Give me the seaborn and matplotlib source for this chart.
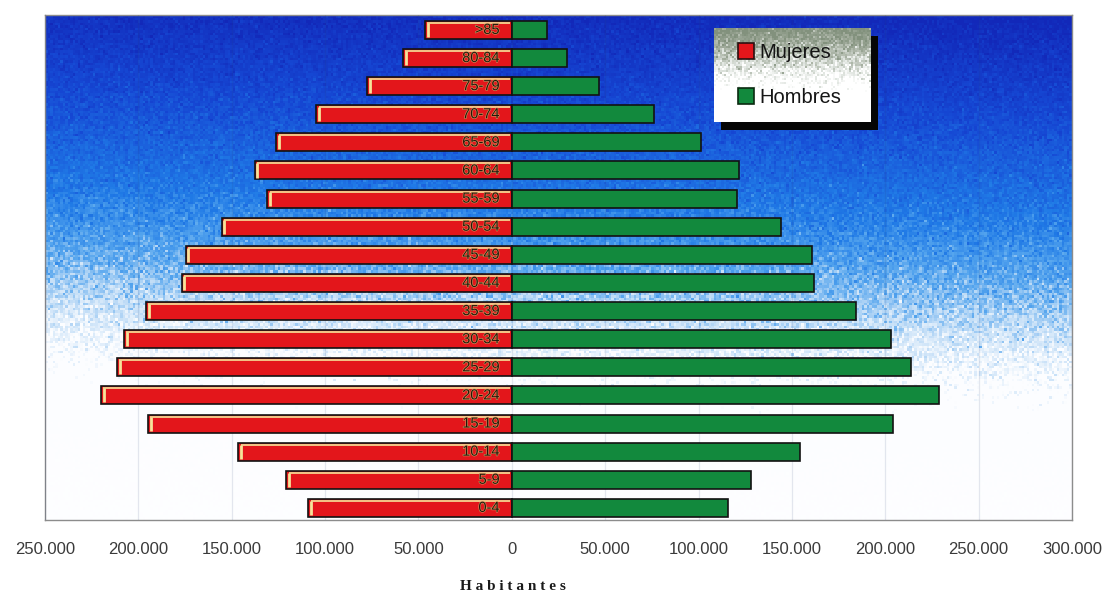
import numpy as np
import pandas as pd
import matplotlib
matplotlib.use("Agg")
import matplotlib.pyplot as plt
import matplotlib.patheffects as pe
import seaborn as sns
from matplotlib.patches import Patch, Rectangle
from matplotlib.ticker import FuncFormatter, FixedLocator

# Grupos de edad (de mayor a menor, como se leen de arriba abajo)
edades = [">85", "80-84", "75-79", "70-74", "65-69", "60-64", "55-59", "50-54",
          "45-49", "40-44", "35-39", "30-34", "25-29", "20-24", "15-19",
          "10-14", "5-9", "0-4"]
mujeres = [46500, 58200, 77500, 104700, 126100, 137800, 130900, 155400,
           174700, 176800, 196000, 207800, 211500, 220100, 195000,
           146400, 120700, 109000]
hombres = [18700, 29400, 46500, 75900, 101500, 121800, 120700, 144200,
           160800, 161900, 184300, 203000, 213700, 228600, 204100,
           154400, 128200, 115900]
marcas_x = [-250000, -200000, -150000, -100000, -50000, 0,
            50000, 100000, 150000, 200000, 250000, 300000]
series = ["Mujeres", "Hombres"]

ROJO = "#e3161b"
VERDE = "#12893d"

sns.set_style("white")
plt.rcParams["font.family"] = ["Liberation Sans", "DejaVu Sans"]

W_PX, H_PX = 1104, 593
fig = plt.figure(figsize=(W_PX / 100, H_PX / 100), dpi=100)
ax = fig.add_axes([45 / W_PX, 1 - 520 / H_PX, 1027 / W_PX, 505 / H_PX])

df = pd.DataFrame({
    "edad": edades + edades,
    "sexo": [series[0]] * len(edades) + [series[1]] * len(edades),
    "habitantes": [-v for v in mujeres] + hombres,
})

sns.barplot(data=df, x="habitantes", y="edad", hue="sexo", order=edades,
            hue_order=series, palette={series[0]: ROJO, series[1]: VERDE},
            dodge=False, orient="h", width=0.64, saturation=1,
            edgecolor="#121212", linewidth=1.2, legend=False, ax=ax, zorder=3)

x0, x1 = marcas_x[0], marcas_x[-1]
y_bot, y_top = len(edades) - 1 + 0.43, -0.53
ax.set_xlim(x0, x1)
ax.set_ylim(y_bot, y_top)

# Fondo degradado azul -> blanco con grano
rng = np.random.default_rng(11)
Hb, Wb = 200, 410
yy = np.linspace(0, 1, Hb)[:, None]
xx = np.linspace(0, 1, Wb)[None, :]
t = yy + 0.06 * (1 - xx) + rng.normal(0, 0.035, (Hb, Wb))
stops = [0.0, 0.2, 0.40, 0.52, 0.62, 0.72, 1.3]
cols = np.array([(18, 40, 185), (22, 72, 212), (32, 122, 230), (85, 165, 238),
                 (195, 222, 247), (252, 253, 255), (255, 255, 255)]) / 255
fondo = np.stack([np.interp(t, stops, cols[:, k]) for k in range(3)], axis=-1)
ax.imshow(fondo, extent=(x0, x1, y_bot, y_top), aspect="auto", zorder=0,
          interpolation="nearest")
ax.set_xlim(x0, x1)
ax.set_ylim(y_bot, y_top)

# Brillo en el borde superior e izquierdo de las barras rojas
for p in ax.patches:
    w = p.get_width()
    if w < 0:
        izq = p.get_x() + w
        arriba = p.get_y()
        h = p.get_height()
        ax.plot([izq + 1200, -800], [arriba + 0.07, arriba + 0.07],
                color="#f6e49a", lw=1.2, zorder=4, solid_capstyle="butt")
        ax.plot([izq + 1500, izq + 1500], [arriba + 0.07, arriba + h - 0.07],
                color="#f6e49a", lw=2.0, zorder=4, solid_capstyle="butt")

# Rótulos de edad sobre las barras de mujeres
for i, e in enumerate(edades):
    ax.text(-6500, i, e, ha="right", va="center", fontsize=10.5,
            color="#24170a", zorder=5,
            path_effects=[pe.withStroke(linewidth=0.8, foreground="#d79a60")])

ax.xaxis.set_major_locator(FixedLocator(marcas_x))
ax.xaxis.set_major_formatter(
    FuncFormatter(lambda v, _: f"{abs(v):,.0f}".replace(",", ".")))
ax.tick_params(axis="x", length=0, pad=16, labelsize=12, labelcolor="#3a3a3a")
ax.set_yticks([])
ax.set_xlabel("")
ax.set_ylabel("")
ax.grid(axis="x", color="#28407a", alpha=0.12, lw=0.9, zorder=1)
ax.set_axisbelow(False)
for s in ax.spines.values():
    s.set_color("#8c8c8c")
    s.set_linewidth(1.0)

fig.text(513 / W_PX, 1 - 586 / H_PX, "H a b i t a n t e s", ha="center",
         va="center", fontsize=11, fontweight="bold", color="#1a1a1a",
         family=["Liberation Serif", "DejaVu Serif"])

# Leyenda con sombra y fondo degradado
lx, ly, lw_, lh = 714, 28, 157, 94
sombra = Rectangle(((lx + 7) / W_PX, 1 - (ly + lh + 8) / H_PX), lw_ / W_PX, lh / H_PX,
                   transform=fig.transFigure, facecolor="#050505",
                   edgecolor="none", zorder=5)
fig.add_artist(sombra)
lax = fig.add_axes([lx / W_PX, 1 - (ly + lh) / H_PX, lw_ / W_PX, lh / H_PX], zorder=6)
gy = np.linspace(0, 1, 47)[:, None]
tg = gy + rng.normal(0, 0.09, (47, 79))
gcols = np.array([(130, 145, 125), (165, 175, 160), (225, 230, 225),
                  (255, 255, 255), (255, 255, 255)]) / 255
gstops = [0.0, 0.2, 0.4, 0.55, 1.5]
gl = np.stack([np.interp(tg, gstops, gcols[:, k]) for k in range(3)], axis=-1)
lax.imshow(gl, extent=(0, 1, 0, 1), aspect="auto", interpolation="nearest")
lax.set_xlim(0, 1)
lax.set_ylim(0, 1)
lax.set_axis_off()
handles = [Patch(facecolor=ROJO, edgecolor="#2a1010", lw=1.2),
           Patch(facecolor=VERDE, edgecolor="#0a2a10", lw=1.2)]
lax.legend(handles, series, loc="center left", bbox_to_anchor=(0.09, 0.5),
           frameon=False, fontsize=14.5, handlelength=0.8, handleheight=0.8,
           handletextpad=0.25, labelspacing=1.3, borderpad=0.0,
           labelcolor="#151515")

fig.savefig("out.png", dpi=100)
